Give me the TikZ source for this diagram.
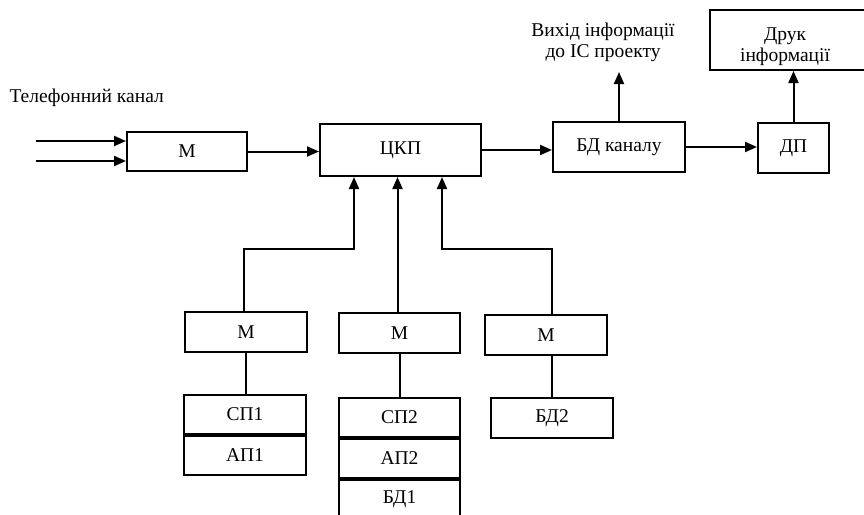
\documentclass[tikz,border=0pt]{standalone}
\usepackage{fontspec}
\setmainfont{Liberation Serif}
\usetikzlibrary{arrows.meta,positioning}
\begin{document}
\begin{tikzpicture}[x=1pt,y=-1pt,
 font=\fontsize{19.5}{21}\selectfont,
 blk/.style={draw,line width=2pt,inner sep=0pt,minimum width=#1,minimum height=40pt},
 blk/.default=122pt,
 arrow/.style={-{Triangle[length=12pt,width=10pt]},line width=2pt},
 link/.style={line width=2pt}
]
\useasboundingbox (0,0) rectangle (864,514);
\node[anchor=west] (tel) at (6,98) {Телефонний канал};
\node[blk=120pt,minimum height=39pt] (m0) at (187,151.5) {М};
\node[blk=161pt,minimum height=52pt] (ckp) at (400.5,150) {ЦКП};
\node[blk=132pt,minimum height=50pt] (bdk) at (619,147) {БД каналу};
\node[blk=71pt,minimum height=50pt] (dp) at (793.5,148) {ДП};
\node[blk=156pt,minimum height=60pt] (druk) at (788,40) {};
\node[align=center] (drukt) at (785,47) {Друк\\інформації};
\node[align=center] (out) at (603,42) {Вихід інформації\\до ІС проекту};
\coordinate (outtip) at (618,72);
\coordinate (in1) at (36,141);
\coordinate (in2) at (36,161);
\coordinate (bus) at (0,249);
\node[blk] (m1) at (246,332) {М};
\node[blk,minimum height=39pt] (sp1) at (245,414.5) {СП1};
\node[blk,minimum height=39pt,below=0pt of sp1] (ap1) {АП1};
\node[blk=121pt] (m2) at (399.5,333) {М};
\node[blk=121pt,minimum height=39pt] (sp2) at (399.5,417.5) {СП2};
\node[blk=121pt,minimum height=39pt,below=0pt of sp2] (ap2) {АП2};
\node[blk=121pt,minimum height=39pt,below=0pt of ap2] (bd1) {БД1};
\node[blk] (m3) at (546,335) {М};
\node[blk] (bd2) at (552,418) {БД2};
\draw[arrow] (in1) -- (in1 -| m0.west);
\draw[arrow] (in2) -- (in2 -| m0.west);
\draw[arrow] (m0.east) -- (m0.east -| ckp.west);
\draw[arrow] (ckp.east) -- (ckp.east -| bdk.west);
\draw[arrow] (bdk.east) -- (bdk.east -| dp.west);
\draw[arrow] (bdk.north) -- (bdk.north |- outtip);
\draw[arrow] (dp.north) -- (dp.north |- druk.south);
\draw[arrow] ([xshift=-2pt]m1.north) -- ([xshift=-2pt]m1.north |- bus) -| ([xshift=-46.5pt]ckp.south);
\draw[arrow] ([xshift=-2pt]m2.north) -- ([xshift=-2pt]m2.north |- ckp.south);
\draw[arrow] (m3.north -| bd2.north) -- (bd2.north |- bus) -| ([xshift=41.5pt]ckp.south);
\draw[link] (m1.south) -- (m1.south |- sp1.north);
\draw[link] (m2.south) -- (m2.south |- sp2.north);
\draw[link] (m3.south -| bd2.north) -- (bd2.north);
\end{tikzpicture}
\end{document}
